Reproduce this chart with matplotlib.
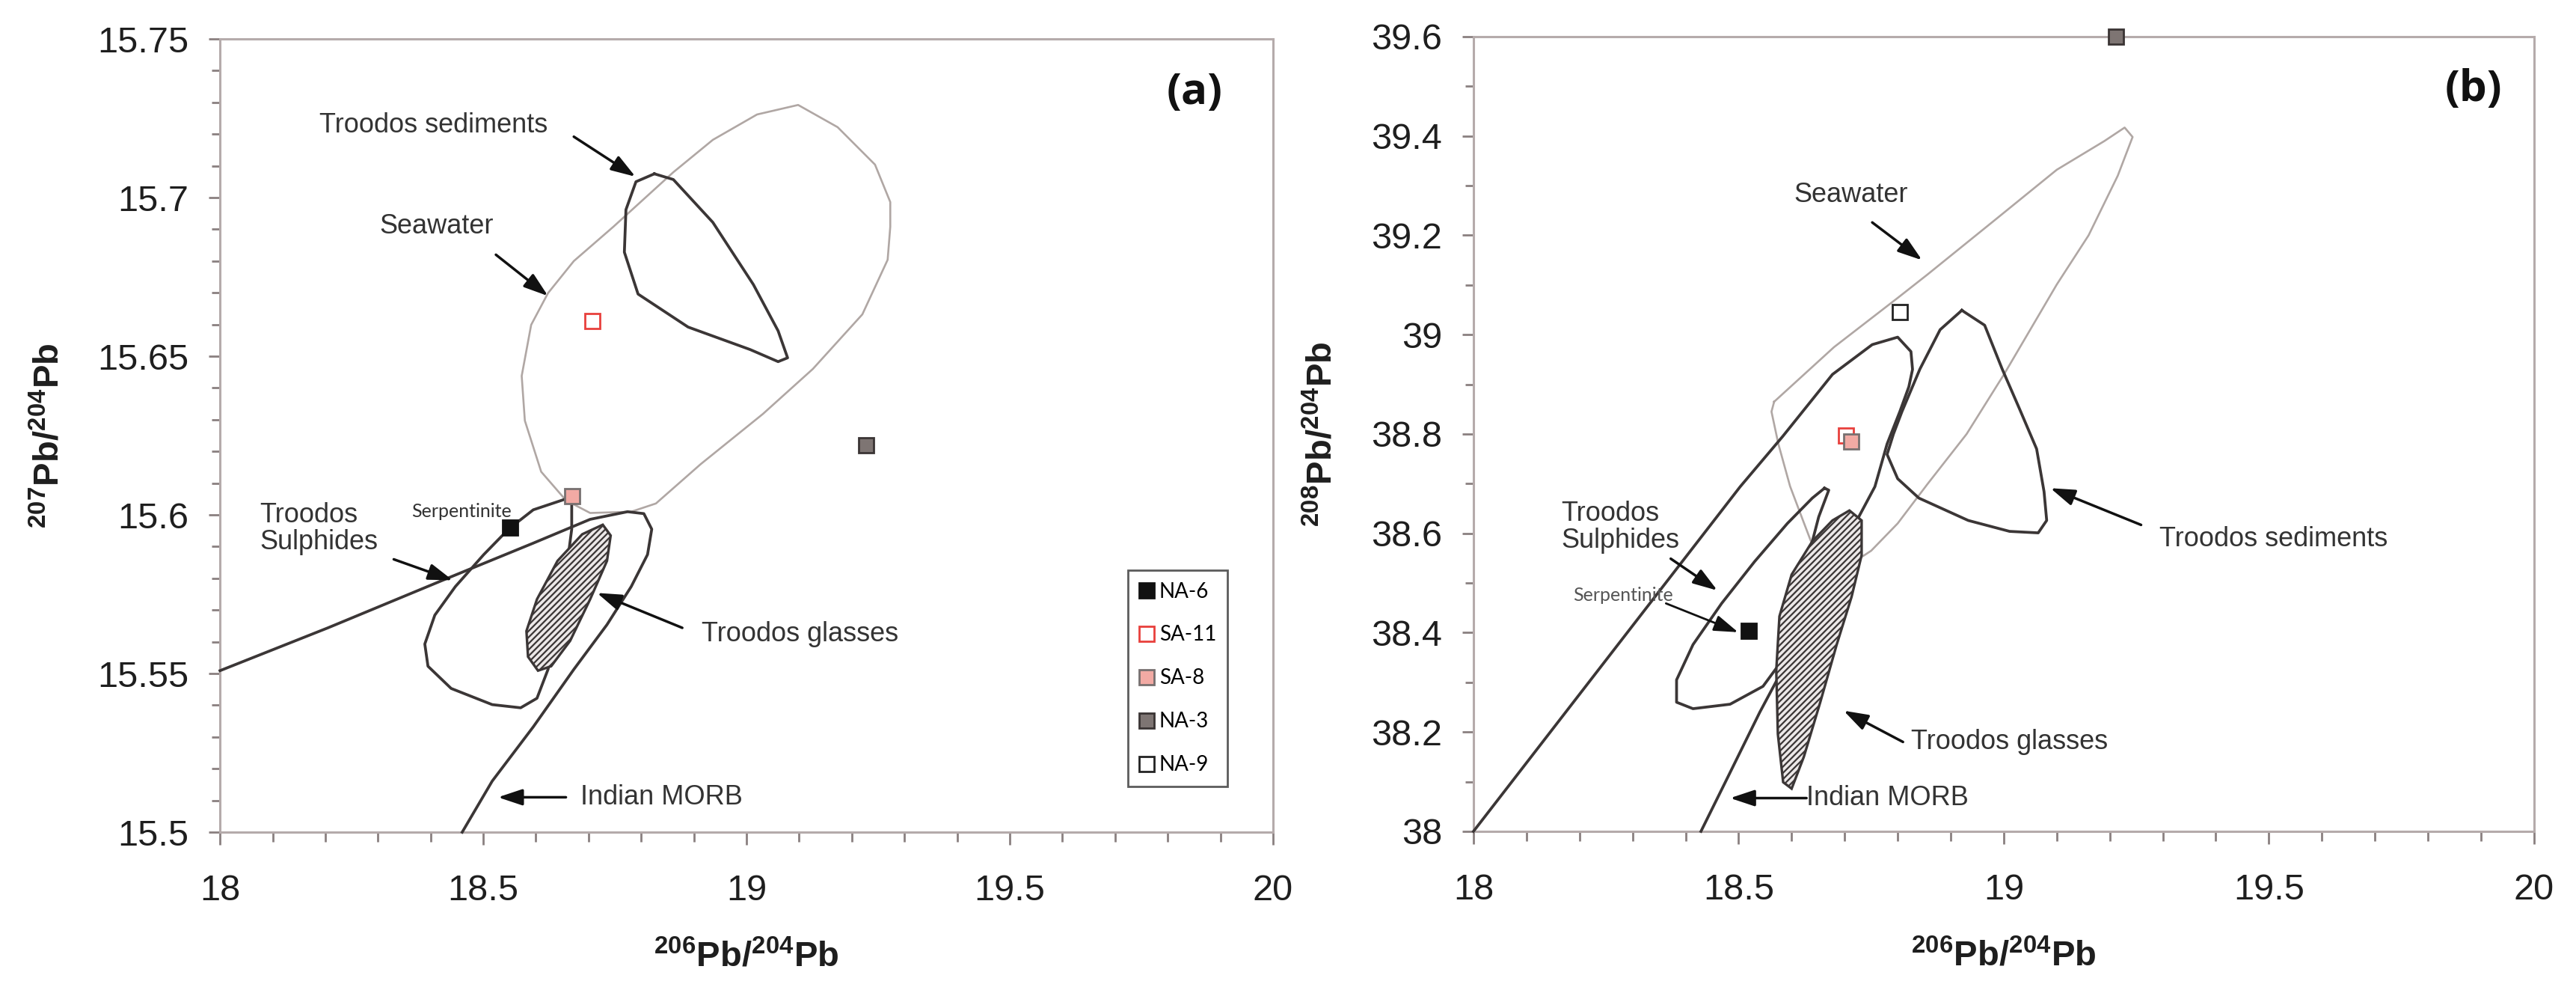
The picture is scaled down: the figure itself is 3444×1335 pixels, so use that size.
import numpy as np
import matplotlib
matplotlib.use("Agg")
import matplotlib.pyplot as plt
from matplotlib.lines import Line2D
from matplotlib.ticker import MultipleLocator, FuncFormatter

plt.rcParams['font.family'] = ['Liberation Sans', 'DejaVu Sans']
plt.rcParams['mathtext.fontset'] = 'custom'
plt.rcParams['mathtext.rm'] = 'Liberation Sans'
plt.rcParams['mathtext.bf'] = 'Liberation Sans:bold'
plt.rcParams['hatch.linewidth'] = 1.6

# ---------------- data ----------------
samples = ['NA-6', 'SA-11', 'SA-8', 'NA-3', 'NA-9']
face_colors = ['#111111', '#ffffff', '#f2aaa4', '#7e7573', '#ffffff']
edge_colors = ['#111111', '#e8403c', '#777070', '#3a3434', '#222222']

# panel (a): 206Pb/204Pb vs 207Pb/204Pb
a_pb206 = [18.551, 18.707, 18.669, 19.227, np.nan]
a_pb207 = [15.596, 15.661, 15.606, 15.622, np.nan]
# panel (b): 206Pb/204Pb vs 208Pb/204Pb
b_pb206 = [18.519, 18.703, 18.712, 19.212, 18.804]
b_pb208 = [38.404, 38.797, 38.785, 39.600, 39.046]

# field outlines, panel (a)
a_sea_x = [18.657, 18.610, 18.579, 18.573, 18.591, 18.623, 18.672, 18.747, 18.861, 18.936, 19.020, 19.098, 19.173,
           19.244, 19.273, 19.273, 19.268, 19.220, 19.126, 19.031, 18.913, 18.828, 18.781, 18.703, 18.657]
a_sea_y = [15.6046, 15.6136, 15.6297, 15.6438, 15.6599, 15.6699, 15.6800, 15.6908, 15.7080, 15.7182, 15.7262, 15.7292,
           15.7222, 15.7104, 15.6986, 15.6908, 15.6804, 15.6632, 15.6460, 15.6318, 15.6160, 15.6036, 15.6010, 15.6006,
           15.6046]
a_sed_x = [18.825, 18.861, 18.936, 19.013, 19.060, 19.078, 19.060, 19.007, 18.889, 18.794, 18.768, 18.771, 18.790, 18.825]
a_sed_y = [15.7075, 15.7057, 15.6922, 15.6726, 15.6580, 15.6495, 15.6483, 15.6521, 15.6592, 15.6696, 15.6828, 15.6962,
           15.7050, 15.7075]
a_sul_x = [18.660, 18.595, 18.548, 18.501, 18.447, 18.408, 18.389, 18.395, 18.439, 18.517, 18.571, 18.602, 18.623,
           18.641, 18.657, 18.668, 18.668, 18.660]
a_sul_y = [15.6052, 15.6016, 15.5955, 15.5875, 15.5774, 15.5684, 15.5593, 15.5523, 15.5453, 15.5402, 15.5392, 15.5422,
           15.5513, 15.5654, 15.5815, 15.5955, 15.6036, 15.6052]
a_morb_x = [18.000, 18.205, 18.439, 18.595, 18.703, 18.774, 18.805, 18.820, 18.812, 18.781, 18.735, 18.672, 18.595,
            18.517, 18.460]
a_morb_y = [15.5509, 15.5644, 15.5805, 15.5911, 15.5986, 15.6010, 15.6004, 15.5955, 15.5875, 15.5774, 15.5654, 15.5513,
            15.5332, 15.5161, 15.5000]
a_gls_x = [18.727, 18.742, 18.735, 18.703, 18.665, 18.629, 18.604, 18.585, 18.582, 18.602, 18.641, 18.688, 18.727]
a_gls_y = [15.5969, 15.5935, 15.5855, 15.5734, 15.5603, 15.5523, 15.5509, 15.5553, 15.5634, 15.5734, 15.5855, 15.5939, 15.5969]

# field outlines, panel (b)
b_sea_x = [18.567, 18.680, 18.800, 18.856, 18.980, 19.100, 19.190, 19.228, 19.243, 19.215, 19.160, 19.100, 19.001,
           18.930, 18.856, 18.800, 18.750, 18.700, 18.672, 18.645, 18.620, 18.597, 18.575, 18.562, 18.567]
b_sea_y = [38.865, 38.975, 39.074, 39.121, 39.228, 39.332, 39.390, 39.417, 39.398, 39.320, 39.200, 39.101, 38.921,
           38.800, 38.699, 38.620, 38.565, 38.530, 38.532, 38.560, 38.630, 38.695, 38.780, 38.845, 38.865]
b_morb_x = [18.000, 18.250, 18.503, 18.583, 18.677, 18.752, 18.800, 18.825, 18.828, 18.821, 18.804, 18.780, 18.757,
            18.710, 18.660, 18.600, 18.540, 18.480, 18.429]
b_morb_y = [38.000, 38.345, 38.694, 38.795, 38.920, 38.980, 38.995, 38.966, 38.930, 38.895, 38.845, 38.780, 38.694,
            38.600, 38.490, 38.360, 38.240, 38.110, 38.000]
b_sul_x = [18.662, 18.639, 18.592, 18.530, 18.468, 18.414, 18.383, 18.383, 18.414, 18.484, 18.546, 18.577, 18.600,
           18.626, 18.651, 18.670, 18.662]
b_sul_y = [38.691, 38.671, 38.620, 38.543, 38.459, 38.376, 38.305, 38.260, 38.247, 38.256, 38.292, 38.337, 38.414,
           38.530, 38.633, 38.687, 38.691]
b_sed_x = [18.921, 18.964, 18.997, 19.030, 19.062, 19.076, 19.081, 19.065, 19.011, 18.933, 18.840, 18.800, 18.780,
           18.792, 18.808, 18.842, 18.880, 18.921]
b_sed_y = [39.049, 39.019, 38.931, 38.850, 38.770, 38.684, 38.626, 38.601, 38.604, 38.626, 38.671, 38.710, 38.759,
           38.800, 38.845, 38.931, 39.010, 39.049]
b_gls_x = [18.709, 18.732, 18.732, 18.713, 18.685, 18.654, 18.623, 18.600, 18.584, 18.574, 18.571, 18.577, 18.600,
           18.639, 18.677, 18.709]
b_gls_y = [38.646, 38.626, 38.556, 38.472, 38.376, 38.260, 38.150, 38.086, 38.099, 38.196, 38.324, 38.433, 38.517,
           38.584, 38.626, 38.646]

# annotations: (text, text_x, text_y, ha, arrow_tail, arrow_head)
a_labels = [
    ('Troodos sediments', 18.405, 15.7228, 'center', (18.672, 15.7192), (18.789, 15.7066)),
    ('Seawater', 18.411, 15.6910, 'center', (18.524, 15.6820), (18.623, 15.6690)),
    ('Troodos\nSulphides', 18.076, 15.5957, 'left', (18.330, 15.5860), (18.442, 15.5794)),
    ('Troodos glasses', 18.914, 15.5623, 'left', (18.878, 15.5644), (18.716, 15.5754)),
    ('Indian MORB', 18.685, 15.5110, 'left', (18.657, 15.5110), (18.528, 15.5110)),
]
b_labels = [
    ('Seawater', 18.712, 39.282, 'center', (18.752, 39.226), (18.846, 39.150)),
    ('Troodos sediments', 19.293, 38.588, 'left', (19.259, 38.617), (19.088, 38.691)),
    ('Troodos\nSulphides', 18.166, 38.612, 'left', (18.372, 38.549), (18.460, 38.485)),
    ('Troodos glasses', 18.825, 38.180, 'left', (18.810, 38.180), (18.698, 38.243)),
    ('Indian MORB', 18.628, 38.067, 'left', (18.628, 38.067), (18.484, 38.067)),
]
a_serp = ('Serpentinite', 18.459, 15.601)
b_serp = ('Serpentinite', 18.282, 38.476, (18.363, 38.459), (18.499, 38.401))

# ---------------- drawing ----------------
fig = plt.figure(figsize=(34.44, 13.35), dpi=100)
axa = fig.add_axes([0.0854, 0.1670, 0.4088, 0.7940])
axb = fig.add_axes([0.5720, 0.1678, 0.4117, 0.7955])

SEA = '#b0a7a4'
DARK = '#3b3636'
SPINE = '#b5abab'


def style_axes(ax, xlim, ylim, ymaj, ymin, ylabel, ylab_x):
    ax.set_xlim(*xlim)
    ax.set_ylim(*ylim)
    ax.xaxis.set_major_locator(MultipleLocator(0.5))
    ax.xaxis.set_minor_locator(MultipleLocator(0.1))
    ax.yaxis.set_major_locator(MultipleLocator(ymaj))
    ax.yaxis.set_minor_locator(MultipleLocator(ymin))
    fmt = FuncFormatter(lambda v, p: ('%.2f' % v).rstrip('0').rstrip('.'))
    ax.xaxis.set_major_formatter(fmt)
    ax.yaxis.set_major_formatter(fmt)
    for s in ax.spines.values():
        s.set_color(SPINE)
        s.set_linewidth(2.2)
    ax.tick_params(axis='x', which='major', direction='out', length=12, width=2, color='#8a8080',
                   labelsize=35, pad=28, labelcolor='#1e1e1e')
    ax.tick_params(axis='x', which='minor', direction='out', length=9, width=2, color='#8a8080')
    ax.tick_params(axis='y', which='major', direction='out', length=11, width=2, color='#8a8080',
                   labelsize=35, pad=19, labelcolor='#1e1e1e')
    ax.tick_params(axis='y', which='minor', direction='out', length=8, width=2, color='#8a8080')
    ax.set_xlabel(r'$\mathbf{^{206}Pb/^{204}Pb}$', fontsize=34, va='center', color='#1e1e1e')
    ax.xaxis.set_label_coords(0.5, -0.158)
    ax.set_ylabel(ylabel, fontsize=34, va='center', ha='center', color='#1e1e1e')
    ax.yaxis.set_label_coords(ylab_x, 0.5)


def draw_fields(ax, sea, sed, sul, morb, gls):
    ax.plot(sea[0], sea[1], color=SEA, lw=1.9, solid_joinstyle='round', zorder=2)
    ax.plot(sed[0], sed[1], color=DARK, lw=2.7, solid_joinstyle='round', zorder=3)
    ax.plot(sul[0], sul[1], color=DARK, lw=2.7, solid_joinstyle='round', zorder=3)
    ax.plot(morb[0], morb[1], color=DARK, lw=2.7, solid_joinstyle='round', zorder=3, clip_on=False)
    ax.fill(gls[0], gls[1], facecolor='#ece8e8', edgecolor=DARK, hatch='////', lw=2.4, zorder=3)


def draw_labels(ax, labels):
    for txt, tx, ty, ha, tail, head in labels:
        ax.text(tx, ty, txt, fontsize=26, ha=ha, va='center', color='#333333', linespacing=1.05, zorder=6)
        ax.annotate('', xy=head, xytext=tail,
                    arrowprops=dict(arrowstyle='-|>,head_length=0.9,head_width=0.3', color='#111111',
                                    lw=2.5, shrinkA=0, shrinkB=0, mutation_scale=22), zorder=6)


def draw_samples(ax, xs, ys):
    for x, y, fc, ec in zip(xs, ys, face_colors, edge_colors):
        if np.isnan(x):
            continue
        ax.plot([x], [y], 's', ms=15, mfc=fc, mec=ec, mew=2, zorder=7, clip_on=False)


# panel (a)
style_axes(axa, (18, 20), (15.5, 15.75), 0.05, 0.01, r'$\mathbf{^{207}Pb/^{204}Pb}$', -0.162)
draw_fields(axa, (a_sea_x, a_sea_y), (a_sed_x, a_sed_y), (a_sul_x, a_sul_y), (a_morb_x, a_morb_y), (a_gls_x, a_gls_y))
draw_labels(axa, a_labels)
axa.text(a_serp[1], a_serp[2], a_serp[0], fontsize=18, family=['Lato', 'DejaVu Sans'], ha='center', va='center',
         color='#333333', zorder=6)
draw_samples(axa, a_pb206, a_pb207)
axa.text(19.851, 15.733, '(a)', fontsize=42, fontweight='bold', family=['Open Sans', 'DejaVu Sans'],
         ha='center', va='center', color='#111111')

handles = [Line2D([], [], ls='none', marker='s', ms=15, mfc=fc, mec=ec, mew=2)
           for fc, ec in zip(face_colors, edge_colors)]
leg = axa.legend(handles, samples, loc='lower right', bbox_to_anchor=(0.957, 0.058), frameon=True, fancybox=False,
                 prop={'family': ['Lato', 'DejaVu Sans'], 'size': 20}, labelspacing=1.15, handlelength=0.7,
                 handletextpad=0.25, borderpad=0.55, borderaxespad=0)
leg.get_frame().set_edgecolor('#333333')
leg.get_frame().set_linewidth(2)

# panel (b)
style_axes(axb, (18, 20), (38, 39.6), 0.2, 0.1, r'$\mathbf{^{208}Pb/^{204}Pb}$', -0.142)
draw_fields(axb, (b_sea_x, b_sea_y), (b_sed_x, b_sed_y), (b_sul_x, b_sul_y), (b_morb_x, b_morb_y), (b_gls_x, b_gls_y))
draw_labels(axb, b_labels)
axb.text(b_serp[1], b_serp[2], b_serp[0], fontsize=18, family=['Lato', 'DejaVu Sans'], ha='center', va='center',
         color='#555555', zorder=6)
axb.annotate('', xy=b_serp[4], xytext=b_serp[3],
             arrowprops=dict(arrowstyle='-|>,head_length=0.9,head_width=0.3', color='#111111',
                             lw=2, shrinkA=0, shrinkB=0, mutation_scale=22), zorder=6)
draw_samples(axb, b_pb206, b_pb208)
axb.text(19.886, 39.493, '(b)', fontsize=42, fontweight='bold', family=['Open Sans', 'DejaVu Sans'],
         ha='center', va='center', color='#111111')

fig.savefig('out.png', dpi=100)
